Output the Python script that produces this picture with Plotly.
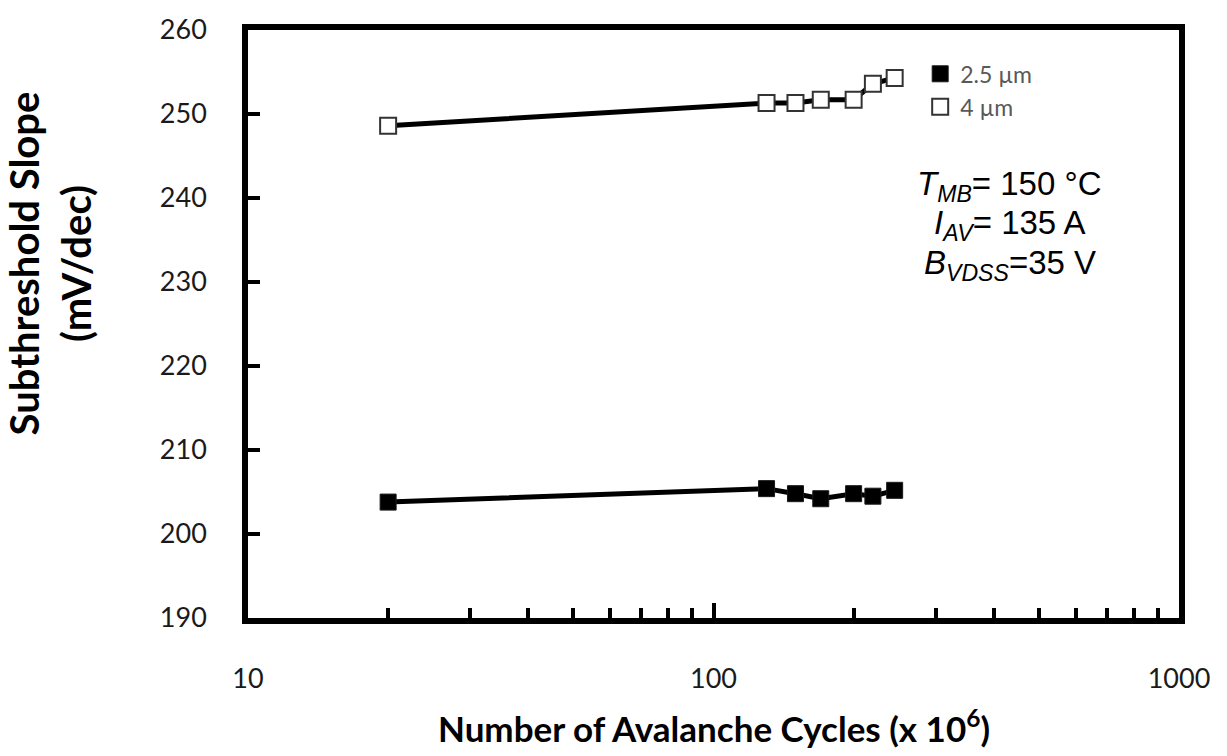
import plotly.graph_objects as go

# Avalanche cycling data (cycles in units of 10^6)
cycles = [20, 130, 150, 170, 200, 220, 245]
slope_2p5um = [203.8, 205.4, 204.8, 204.2, 204.8, 204.5, 205.2]
slope_4um = [248.6, 251.3, 251.3, 251.7, 251.7, 253.6, 254.3]

series_names = ["2.5 \u00b5m", "4 \u00b5m"]
y_ticks = [190, 200, 210, 220, 230, 240, 250, 260]
x_ticks = [10, 100, 1000]

fig = go.Figure()

for ys in (slope_2p5um, slope_4um):
    fig.add_trace(go.Scatter(
        x=cycles, y=ys, mode="lines",
        line=dict(color="black", width=5),
        showlegend=False, hoverinfo="skip",
    ))

fig.add_trace(go.Scatter(
    x=cycles, y=slope_2p5um, mode="markers", name=series_names[0],
    marker=dict(symbol="square", size=16, color="black",
                line=dict(color="#1a1a1a", width=1)),
))
fig.add_trace(go.Scatter(
    x=cycles, y=slope_4um, mode="markers", name=series_names[1],
    marker=dict(symbol="square", size=16, color="white",
                line=dict(color="#333333", width=2)),
))

tick_font = dict(family="Lato, Open Sans, sans-serif", size=27, color="#1a1a1a")
ytitle_font = dict(family="Lato, Open Sans, sans-serif", size=40, color="black")
xtitle_font = dict(family="Lato, Open Sans, sans-serif", size=35, color="black")

fig.update_xaxes(
    type="log", range=[1, 3],
    tickvals=x_ticks, ticktext=[str(v) for v in x_ticks],
    ticks="inside", ticklen=15, tickwidth=3.5, tickcolor="black",
    minor=dict(ticks="inside", ticklen=10, tickwidth=3.5, tickcolor="black",
               dtick="D1"),
    showline=True, linewidth=5.5, linecolor="black", mirror=True,
    showgrid=False, zeroline=False,
    tickfont=tick_font, ticklabelstandoff=32,
)
fig.update_yaxes(
    range=[190, 260], tickvals=y_ticks,
    ticks="inside", ticklen=12, tickwidth=4, tickcolor="black",
    showline=True, linewidth=5.5, linecolor="black", mirror=True,
    showgrid=False, zeroline=False,
    tickfont=tick_font, ticklabelstandoff=30,
)

# Axis titles
fig.add_annotation(
    text="<b>Number of Avalanche Cycles (x 10<sup>6</sup>)</b>",
    xref="paper", yref="paper", x=0.5, y=-0.183,
    xanchor="center", yanchor="middle", showarrow=False, font=xtitle_font,
)
fig.add_annotation(
    text="<b>Subthreshold Slope<br>(mV/dec)</b>",
    xref="paper", yref="paper", x=-0.2127, y=0.603, textangle=-90,
    xanchor="center", yanchor="middle", showarrow=False, font=ytitle_font,
)

# Test conditions
cond_font = dict(family="Liberation Sans, Arial, sans-serif", size=33, color="black")
conditions = [
    "<i>T<sub>MB</sub></i>= 150 \u00b0C",
    "<i>I<sub>AV</sub></i>= 135 A",
    "<i>B<sub>VDSS</sub></i>=35 V",
]
for i, txt in enumerate(conditions):
    fig.add_annotation(
        text=txt, xref="paper", yref="paper",
        x=0.818, y=0.735 - i * 0.067, xanchor="center", yanchor="middle",
        showarrow=False, font=cond_font,
    )

fig.update_layout(
    width=1227, height=756,
    margin=dict(l=248, r=48, t=23, b=138),
    paper_bgcolor="white", plot_bgcolor="white",
    legend=dict(
        x=0.722, y=0.962, xanchor="left", yanchor="top",
        font=dict(family="Lato, Open Sans, sans-serif", size=23, color="#595959"),
        bgcolor="rgba(0,0,0,0)", tracegroupgap=0,
    ),
)

fig.write_html("out.html")
